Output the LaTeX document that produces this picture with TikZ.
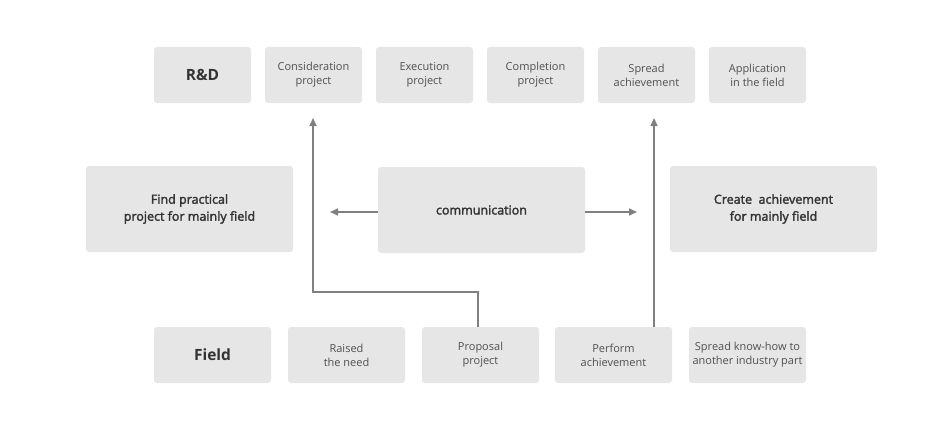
\documentclass[tikz,border=0pt]{standalone}
\usepackage{fontspec}
\setmainfont{Open Sans}
\newfontfamily\midfont[FakeBold=2.2]{Open Sans}
\usepackage{tikz}
\usetikzlibrary{arrows.meta, positioning, calc}

\definecolor{boxgray}{HTML}{E6E6E6}
\definecolor{txtgray}{HTML}{505050}
\definecolor{linegray}{HTML}{808080}

\tikzset{
    box/.style={fill=boxgray, rounded corners=3pt, align=center, text=txtgray, inner sep=0pt},
    topbox/.style={box, minimum width=97pt, minimum height=56pt, font=\fontsize{11}{14}\selectfont},
    botbox/.style={box, minimum width=117pt, minimum height=56pt, font=\fontsize{11}{14}\selectfont},
    midbox/.style={box, minimum width=207pt, minimum height=86pt, font=\midfont\fontsize{12.5}{17}\selectfont, text=black!80},
    headbox/.style={box, font=\fontsize{15.5}{18}\selectfont\bfseries, text=black!80},
    flow/.style={draw=linegray, line width=1.6pt, -{Triangle[length=8pt, width=7pt]}}
}

\begin{document}
\begin{tikzpicture}[x=1pt, y=-1pt]
    \useasboundingbox (0,0) rectangle (951,444);

    % top row
    \node[topbox, headbox] (rnd) at (202.5,75) {R\&D};
    \node[topbox] (consider) at (313.5,75) {Consideration\\project};
    \node[topbox] (execute) at (424.5,75) {Execution\\project};
    \node[topbox] (complete) at (535.5,75) {Completion\\project};
    \node[topbox] (spread) at (646.5,75) {Spread\\achievement};
    \node[topbox] (apply) at (757.5,75) {Application\\in the field};

    % middle row
    \node[midbox] (find) at (189.5,209) {Find practical\\project for mainly field};
    \node[midbox] (comm) at (481.5,210) {communication};
    \node[midbox] (create) at (773.5,209) {Create\ \ achievement\\for mainly field};

    % bottom row
    \node[botbox, headbox] (field) at (212.5,355) {Field};
    \node[botbox] (raised) at (346.5,355) {Raised\\the need};
    \node[botbox] (proposal) at (480.5,355) {Proposal\\project};
    \node[botbox] (perform) at (613.5,355) {Perform\\achievement};
    \node[botbox] (knowhow) at (747.5,355) {Spread know-how to\\another industry part};

    \coordinate (upL) at (313,118);
    \coordinate (upR) at (654,118);
    \coordinate (leftend) at (330,212);
    \coordinate (rightend) at (637,212);

    % connectors
    \draw[flow] ([xshift=-2.5pt]proposal.north) -- ++(0,-35) -| (upL);
    \draw[flow] (perform.north -| upR) -- (upR);
    \draw[flow] (comm.west |- leftend) -- (leftend);
    \draw[flow] (comm.east |- rightend) -- (rightend);
\end{tikzpicture}
\end{document}
